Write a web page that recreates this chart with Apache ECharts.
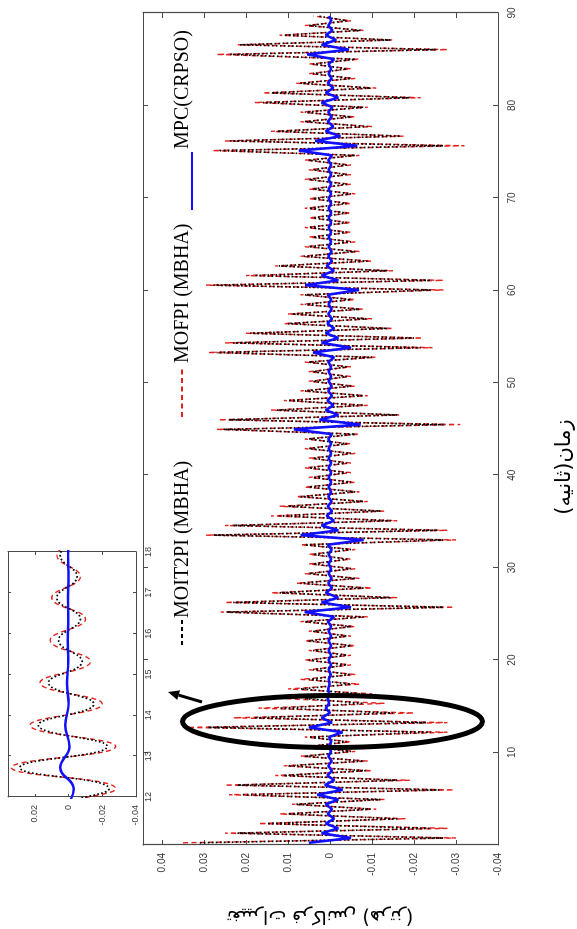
<!DOCTYPE html>
<html><head><meta charset="utf-8">
<script src="https://cdn.jsdelivr.net/npm/echarts@6/dist/echarts.min.js"></script>
<style>
html,body{margin:0;padding:0;width:577px;height:929px;overflow:hidden;background:#fff;}
#chart{position:absolute;left:0;top:0;width:929px;height:577px;transform-origin:0 0;transform:translate(0,929px) rotate(-90deg);}
</style></head><body><div id="chart"></div>
<script>
// Peak (half-swing) sampling grid of the time axis, seconds
const T0 = 0.24, HALF = 0.52;

// MOIT2PI (MBHA) – black dotted, swing extremes
const moit2pi = [
 0.031,-0.027,0.022,-0.024,0.015,-0.016,0.010,-0.0097,0.008,-0.012,
 0.021,-0.026,0.022,-0.016,0.011,-0.0085,0.010,-0.008,0.006,-0.005,
 0.005,-0.004,0.005,-0.024,0.029,-0.023,0.018,-0.015,0.012,-0.008,
 0.006,-0.007,0.007,-0.005,0.005,-0.005,0.004,-0.004,0.005,-0.004,
 0.004,-0.005,0.005,-0.004,0.004,-0.005,0.006,-0.008,0.0245,-0.027,
 0.023,-0.0145,0.012,-0.008,0.007,-0.006,0.005,-0.005,0.004,-0.004,
 0.004,-0.005,0.006,-0.027,0.0277,-0.0256,0.023,-0.0145,0.012,-0.012,
 0.010,-0.008,0.007,-0.006,0.005,-0.005,0.004,-0.004,0.005,-0.004,
 0.004,-0.005,0.005,-0.004,0.005,-0.006,0.0253,-0.027,0.024,-0.016,
 0.0126,-0.008,0.010,-0.008,0.006,-0.005,0.004,-0.004,0.004,-0.004,
 0.005,-0.010,0.027,-0.0216,0.023,-0.020,0.019,-0.0136,0.010,-0.0087,
 0.009,-0.007,0.006,-0.005,0.006,-0.024,0.0277,-0.024,0.018,-0.0136,
 0.0122,-0.0089,0.0062,-0.006,0.005,-0.005,0.004,-0.004,0.005,-0.004,
 0.004,-0.004,0.005,-0.004,0.004,-0.005,0.004,-0.004,0.005,-0.004,
 0.004,-0.004,0.005,-0.006,0.0265,-0.027,0.0237,-0.0168,0.0126,-0.0089,
 0.006,-0.005,0.006,-0.008,0.016,-0.019,0.014,-0.0097,0.007,-0.005,
 0.004,-0.004,0.004,-0.006,0.0237,-0.0252,0.0214,-0.0144,0.011,-0.0073,
 0.005,-0.004,0.003
];

// MOFPI (MBHA) – red dashed
const mofpi = [
 0.035,-0.030,0.025,-0.028,0.017,-0.018,0.012,-0.011,0.009,-0.013,
 0.024,-0.0295,0.025,-0.019,0.013,-0.010,0.011,-0.009,0.007,-0.006,
 0.006,-0.005,0.006,-0.028,0.034,-0.028,0.023,-0.020,0.017,-0.013,
 0.011,-0.010,0.010,-0.007,0.007,-0.006,0.005,-0.005,0.006,-0.005,
 0.005,-0.006,0.006,-0.005,0.005,-0.006,0.007,-0.009,0.026,-0.0295,
 0.025,-0.016,0.014,-0.010,0.008,-0.007,0.006,-0.006,0.005,-0.005,
 0.005,-0.006,0.007,-0.030,0.0295,-0.028,0.025,-0.016,0.014,-0.013,
 0.012,-0.009,0.008,-0.007,0.006,-0.006,0.005,-0.005,0.006,-0.005,
 0.005,-0.006,0.006,-0.005,0.006,-0.007,0.027,-0.031,0.0265,-0.0165,
 0.014,-0.009,0.011,-0.009,0.007,-0.006,0.005,-0.005,0.005,-0.005,
 0.006,-0.011,0.029,-0.0244,0.025,-0.022,0.020,-0.015,0.011,-0.010,
 0.010,-0.008,0.007,-0.006,0.007,-0.027,0.0295,-0.027,0.020,-0.015,
 0.013,-0.010,0.007,-0.007,0.006,-0.006,0.005,-0.005,0.006,-0.005,
 0.005,-0.005,0.006,-0.005,0.005,-0.006,0.005,-0.005,0.006,-0.005,
 0.005,-0.005,0.006,-0.007,0.028,-0.032,0.025,-0.0175,0.014,-0.010,
 0.007,-0.006,0.007,-0.009,0.018,-0.0216,0.016,-0.011,0.008,-0.006,
 0.005,-0.005,0.005,-0.007,0.027,-0.028,0.022,-0.015,0.012,-0.008,
 0.006,-0.005,0.004
];

// MPC(CRPSO) – blue solid
const mpc = [
 0.005,-0.005,0.002,-0.002,0.001,-0.001,0.0005,-0.0005,0.001,-0.002,
 0.003,-0.003,0.0012,-0.001,0.0006,-0.0005,0.0004,-0.0004,0.0004,-0.0003,
 0.0003,-0.0003,0.0002,-0.003,0.005,-0.0005,0.002,0.0000,0.001,0.0002,
 0.0005,0.0002,0.0004,0.0001,0.0003,-0.0002,0.0003,-0.0003,0.0003,-0.0003,
 0.0003,-0.0003,0.0003,-0.0003,0.0003,-0.0003,0.0005,-0.001,0.006,-0.005,
 0.002,-0.002,0.001,-0.0005,0.0004,-0.0004,0.0003,-0.0003,0.0003,-0.0003,
 0.0003,-0.0004,0.0005,-0.008,0.007,-0.002,0.002,-0.001,0.0008,-0.0005,
 0.0005,-0.0004,0.0004,-0.0003,0.0003,-0.0003,0.0003,-0.0003,0.0003,-0.0003,
 0.0003,-0.0003,0.0003,-0.0003,0.0004,-0.0005,0.0086,-0.0073,0.0025,-0.002,
 0.001,-0.0008,0.0006,-0.0005,0.0004,-0.0004,0.0003,-0.0003,0.0003,-0.0003,
 0.0004,-0.001,0.004,-0.005,0.002,-0.002,0.001,-0.001,0.0006,-0.0005,
 0.0004,-0.0004,0.0003,-0.0003,0.0005,-0.0069,0.0059,-0.002,0.002,-0.001,
 0.0008,-0.0005,0.0004,-0.0004,0.0003,-0.0003,0.0003,-0.0003,0.0003,-0.0003,
 0.0003,-0.0003,0.0003,-0.0003,0.0003,-0.0003,0.0003,-0.0003,0.0003,-0.0003,
 0.0003,-0.0003,0.0004,-0.0005,0.0074,-0.0065,0.0035,-0.0025,0.001,-0.0008,
 0.0005,-0.0004,0.0004,-0.0006,0.002,-0.002,0.001,-0.0008,0.0005,-0.0004,
 0.0003,-0.0003,0.0003,-0.001,0.0054,-0.0045,0.002,-0.0015,0.001,-0.0006,
 0.0004,-0.0003,0.0002
];

const seriesNames = ['MOIT2PI (MBHA)', 'MOFPI (MBHA)', 'MPC(CRPSO)'];
const timeTicks = [10,20,30,40,50,60,70,80,90];
const valueTicks = [0.04,0.03,0.02,0.01,0,-0.01,-0.02,-0.03,-0.04];
const insetTimeTicks = [12,13,14,15,16,17,18];
const xTitle = 'زمان(ثانیه)';
const yTitle = 'تغییرات فرکانس (هرتز)';

const peakTimes = moit2pi.map((_, k) => +(T0 + k * HALF).toFixed(2));
const pairs = arr => arr.map((v, k) => [peakTimes[k], v]);

const chart = echarts.init(document.getElementById('chart'));
const axisCol = '#4a4a4a';
const lblStyle = {color:'#3a3a3a', fontSize:10, fontFamily:'"Liberation Sans", Arial, sans-serif'};

function vAxis(grid, pos, min, max, interval, show, extra) {
  return Object.assign({
    type:'value', gridIndex:grid, position:pos, min, max, interval,
    axisLine:{show:true, onZero:false, lineStyle:{color:axisCol, width:1.2}},
    axisTick:{show:true, inside:true, length:5, lineStyle:{color:axisCol}},
    splitLine:{show:false},
    axisLabel:Object.assign({show:show}, lblStyle)
  }, extra || {});
}

const styles = [
  {color:'#000000', width:1.7, type:[1.7,2.3]},
  {color:'#e3201b', width:1.4, type:[5,3.5]},
  {color:'#1010ff', width:2.6, type:'solid'}
];
const datas = [moit2pi, mofpi, mpc];
const order = [1, 0, 2];
const series = [];
order.forEach((i, j) => {
  series.push({name:seriesNames[i], type:'line', xAxisIndex:0, yAxisIndex:0, data:pairs(datas[i]),
    showSymbol:false, symbol:'none', lineStyle:styles[i], z:2+j, silent:true});
});
order.forEach((i, j) => {
  series.push({name:seriesNames[i], type:'line', xAxisIndex:2, yAxisIndex:2, data:pairs(datas[i]),
    showSymbol:false, symbol:'none', smooth:0.45, lineStyle:Object.assign({}, styles[i], i===2?{width:2.4}:{}), z:2+j, silent:true});
});

const legendFont = '20px "Liberation Serif", "Times New Roman", serif';
const lg = (x1, x2, y, st) => ({type:'line', shape:{x1, y1:y, x2, y2:y}, style:{stroke:st.color, lineWidth:st.width, lineDash:Array.isArray(st.type)?st.type:null}, z:100});
const tx = (x, y, text, font, align, rot) => ({type:'text', x, y, rotation:rot||0, style:{text, font, fill:'#000', align:align, textAlign:align, verticalAlign:'middle', textVerticalAlign:'middle'}, z:100});

// arrow geometry (annotation)
const tail = [227, 202], tip = [237, 168];
const dx = tip[0]-tail[0], dy = tip[1]-tail[1], L = Math.hypot(dx, dy);
const ux = dx/L, uy = dy/L, px = -uy, py = ux;
const bx = tip[0]-11*ux, by = tip[1]-11*uy;

chart.setOption({
  animation:false,
  backgroundColor:'#fff',
  grid:[
    {left:84, right:13, top:143, bottom:79},
    {left:132, width:245, top:8, height:128}
  ],
  xAxis:[
    vAxis(0, 'bottom', 0, 90, 10, true, {axisLabel:Object.assign({show:true, margin:9, showMinLabel:false}, lblStyle)}),
    vAxis(0, 'top', 0, 90, 10, false),
    vAxis(1, 'bottom', 12, 18, 1, true, {axisLabel:Object.assign({show:true, margin:8}, lblStyle, {fontSize:9}), axisTick:{show:true, inside:true, length:3, lineStyle:{color:axisCol}}, axisLine:{show:true, onZero:false, lineStyle:{color:axisCol, width:1}}}),
    vAxis(1, 'top', 12, 18, 1, false, {axisTick:{show:true, inside:true, length:3, lineStyle:{color:axisCol}}, axisLine:{show:true, onZero:false, lineStyle:{color:axisCol, width:1}}})
  ],
  yAxis:[
    vAxis(0, 'left', -0.04, 0.0445, 0.01, true, {axisLabel:Object.assign({show:true, margin:8, showMaxLabel:false}, lblStyle)}),
    vAxis(0, 'right', -0.04, 0.0445, 0.01, false),
    vAxis(1, 'left', -0.04, 0.036, 0.02, true, {axisLabel:Object.assign({show:true, margin:8, showMaxLabel:false}, lblStyle, {fontSize:9}), axisTick:{show:true, inside:true, length:3, lineStyle:{color:axisCol}}, axisLine:{show:true, onZero:false, lineStyle:{color:axisCol, width:1}}}),
    vAxis(1, 'right', -0.04, 0.036, 0.02, false, {axisTick:{show:true, inside:true, length:3, lineStyle:{color:axisCol}}, axisLine:{show:true, onZero:false, lineStyle:{color:axisCol, width:1}}})
  ],
  series,
  graphic:[
    // legend
    lg(284, 309, 182, {color:'#000', width:2, type:[4,3]}),
    tx(311, 183, seriesNames[0], legendFont, 'left'),
    lg(512, 560, 182, {color:'#e3201b', width:2, type:[5,3.5]}),
    tx(566, 183, seriesNames[1], legendFont, 'left'),
    lg(719, 777, 192, {color:styles[2].color, width:2, type:'solid'}),
    tx(780, 183, seriesNames[2], legendFont, 'left'),
    // axis titles
    tx(462, 565, xTitle, '21px "DejaVu Sans", sans-serif', 'center'),
    tx(13, 320, yTitle, '19px "DejaVu Sans", sans-serif', 'center', Math.PI/2),
    // zoom ellipse & arrow
    {type:'ellipse', shape:{cx:207.5, cy:332.5, rx:26, ry:150}, style:{fill:null, stroke:'#000', lineWidth:5}, z:100},
    {type:'line', shape:{x1:tail[0], y1:tail[1], x2:bx, y2:by}, style:{stroke:'#000', lineWidth:3}, z:100},
    {type:'polygon', shape:{points:[[tip[0],tip[1]],[bx+5*px,by+5*py],[bx-5*px,by-5*py]]}, style:{fill:'#000'}, z:100}
  ]
});
</script></body></html>
